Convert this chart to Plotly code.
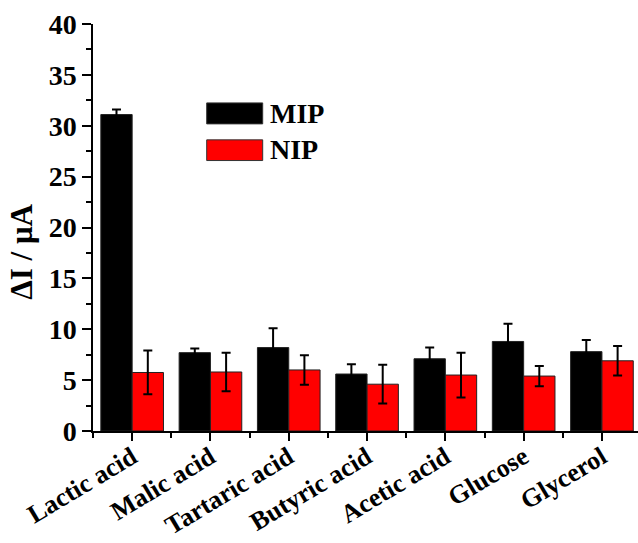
import plotly.graph_objects as go

# Analytes tested and the current response (ΔI, µA) of each electrode
categories = ["Lactic acid", "Malic acid", "Tartaric acid", "Butyric acid",
              "Acetic acid", "Glucose", "Glycerol"]
mip_values = [31.1, 7.7, 8.2, 5.6, 7.1, 8.8, 7.8]
mip_errors = [0.5, 0.4, 1.9, 0.95, 1.1, 1.75, 1.15]
nip_values = [5.75, 5.8, 6.0, 4.6, 5.5, 5.4, 6.9]
nip_errors = [2.15, 1.9, 1.45, 1.9, 2.2, 1.0, 1.45]
y_ticks = [0, 5, 10, 15, 20, 25, 30, 35, 40]

FONT = "Liberation Serif"
W, H = 638, 543
ML, MR, MT, MB = 93, 0, 24, 111.5
PW, PH = W - ML - MR, H - MT - MB

x_pos = list(range(len(categories)))


def px_x(p):
    return (p - ML) / PW


def px_y(p):
    return (H - MB - p) / PH


fig = go.Figure()
fig.add_trace(go.Bar(
    x=x_pos, y=mip_values, name="MIP", showlegend=False,
    marker=dict(color="#000000", line=dict(color="#222222", width=1)),
    error_y=dict(type="data", array=mip_errors, color="#000000",
                 thickness=2, width=4.5),
))
fig.add_trace(go.Bar(
    x=x_pos, y=nip_values, name="NIP", showlegend=False,
    marker=dict(color="#FF0000", line=dict(color="#222222", width=1)),
    error_y=dict(type="data", array=nip_errors, color="#000000",
                 thickness=2, width=4.5),
))

# Hand-drawn legend with wide swatches
legend_items = [("MIP", "#000000", 103, 124, 113.5),
                ("NIP", "#FF0000", 140, 160.7, 150)]
for label, color, top, bottom, mid in legend_items:
    fig.add_shape(type="rect", xref="paper", yref="paper",
                  x0=px_x(206.7), x1=px_x(262.7),
                  y0=px_y(bottom), y1=px_y(top),
                  fillcolor=color, line=dict(color="#333333", width=1))
    fig.add_annotation(xref="paper", yref="paper", x=px_x(268), y=px_y(mid),
                       text=label, showarrow=False, xanchor="left",
                       yanchor="middle",
                       font=dict(family=FONT, size=28, color="black",
                                 weight="bold"))

# Y-axis title
fig.add_annotation(xref="paper", yref="paper", x=px_x(22), y=px_y(252),
                   text="ΔI / μA", textangle=-90, showarrow=False,
                   xanchor="center", yanchor="middle",
                   font=dict(family=FONT, size=31, color="black",
                             weight="bold"))

fig.update_layout(
    width=W, height=H,
    margin=dict(l=ML, r=MR, t=MT, b=MB, pad=0, autoexpand=False),
    paper_bgcolor="white", plot_bgcolor="white",
    barmode="group", bargap=0.2, bargroupgap=0,
    font=dict(family=FONT, color="black"),
)
fig.update_xaxes(
    automargin=False,
    range=[-0.5, -0.5 + PW / 78.3],
    tickmode="array", tickvals=x_pos, ticktext=categories,
    tickangle=-31, ticklabelstandoff=-9,
    tickfont=dict(family=FONT, size=26, color="black", weight="bold"),
    showline=True, linecolor="black", linewidth=1.5,
    ticks="outside", ticklen=8, tickwidth=1.5, tickcolor="black",
    minor=dict(ticks="outside", ticklen=5, tickwidth=1.5, tickcolor="black",
               tick0=0.5, dtick=1),
    showgrid=False, zeroline=False,
)
fig.update_yaxes(
    automargin=False,
    range=[0, 40], tickmode="array", tickvals=y_ticks,
    tickfont=dict(family=FONT, size=28, color="black", weight="bold"),
    showline=True, linecolor="black", linewidth=1.5,
    ticks="outside", ticklen=9, tickwidth=1.5, tickcolor="black",
    minor=dict(ticks="outside", ticklen=5, tickwidth=1.5, tickcolor="black",
               tick0=0, dtick=2.5),
    showgrid=False, zeroline=False,
)

fig.write_html("out.html")
